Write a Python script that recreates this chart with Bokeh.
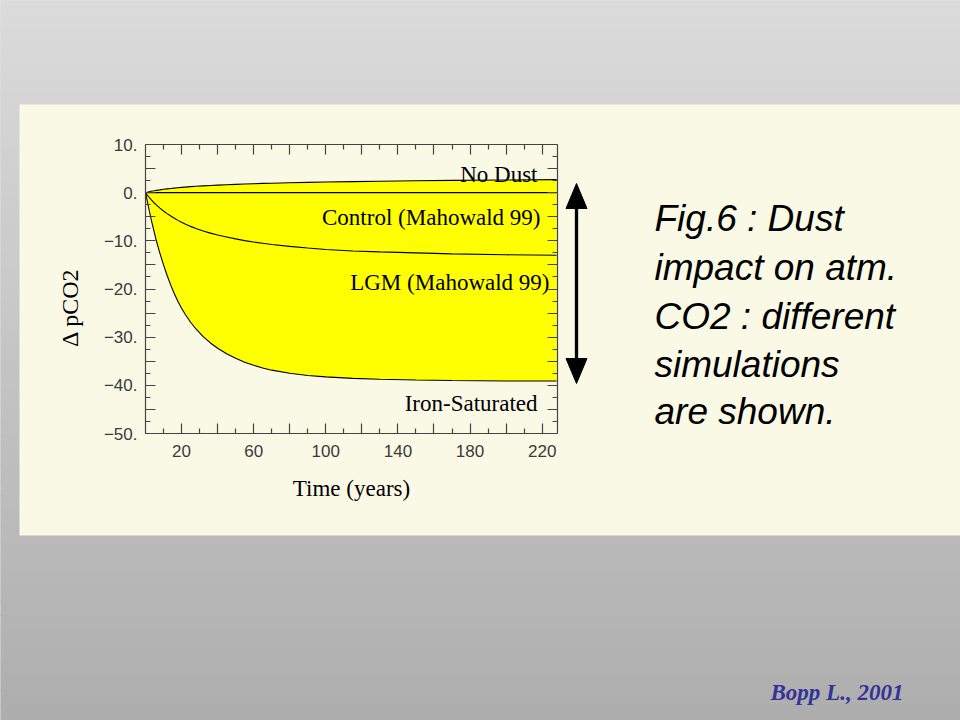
import math
from bokeh.plotting import figure
from bokeh.models import LinearAxis, FixedTicker, ColumnDataSource, Range1d
from bokeh.core.properties import value
from bokeh.embed import file_html
from bokeh.resources import INLINE

# ---------------- data ----------------
years = [0, 1, 2, 3, 4, 5, 6, 8, 10, 12, 14, 16, 18, 20, 22, 25, 28, 32, 36, 40, 45, 50, 55,
         60, 65, 70, 80, 90, 100, 115, 130, 150, 170, 200, 228]
no_dust = [0, 0.1, 0.2, 0.3, 0.35, 0.4, 0.47, 0.58, 0.7, 0.78, 0.86, 0.94, 1.02, 1.1, 1.16,
           1.25, 1.33, 1.42, 1.5, 1.57, 1.65, 1.72, 1.8, 1.86, 1.92, 1.97, 2.06, 2.14, 2.21,
           2.3, 2.38, 2.47, 2.55, 2.64, 2.7]
control = [0, 0, 0, 0, 0, 0, 0, 0, 0, 0, 0, 0, 0, 0, 0, 0, 0, 0, 0, 0, 0, 0, 0, 0, 0, 0, 0,
           0, 0, 0, 0, 0, 0, 0, 0]
lgm = [0, -0.5, -0.95, -1.4, -1.8, -2.2, -2.55, -3.2, -3.8, -4.35, -4.85, -5.3, -5.75, -6.15,
       -6.5, -7.0, -7.45, -7.95, -8.4, -8.8, -9.2, -9.6, -9.95, -10.25, -10.5, -10.75, -11.15,
       -11.5, -11.8, -12.1, -12.3, -12.5, -12.7, -12.9, -13.0]
iron = [0, -1.8, -3.6, -5.3, -6.9, -8.45, -9.95, -12.6, -15.0, -17.2, -19.2, -21.0, -22.6,
        -24.0, -25.25, -26.9, -28.3, -29.9, -31.2, -32.3, -33.45, -34.4, -35.2, -35.85, -36.4,
        -36.85, -37.5, -37.95, -38.25, -38.55, -38.75, -38.9, -39.0, -39.1, -39.1]

series_labels = ["No Dust", "Control (Mahowald 99)", "LGM (Mahowald 99)", "Iron-Saturated"]

x_label_ticks = [20, 60, 100, 140, 180, 220]
x_long_ticks = [40, 80, 120, 160, 200]
x_short_ticks = [10, 30, 50, 70, 90, 110, 130, 150, 170, 190, 210]
x_tick_labels = {20: "20", 60: "60", 100: "100", 140: "140", 180: "180", 220: "220"}
y_label_ticks = [-50, -40, -30, -20, -10, 0, 10]
y_long_ticks = [-45, -35, -25, -15, -5, 5]
y_short_ticks = [-47.5, -42.5, -37.5, -32.5, -27.5, -22.5, -17.5, -12.5, -7.5, -2.5, 2.5, 7.5]
y_tick_labels = {-50: "\u221250.", -40: "\u221240.", -30: "\u221230.", -20: "\u221220.",
                 -10: "\u221210.", 0: "0.", 10: "10."}

x_title = "Time (years)"
y_title = "\u0394 pCO2"
caption_lines = ["Fig.6 : Dust", "impact on atm.", "CO2 : different", "simulations", "are shown."]
credit = "Bopp L., 2001"

# ---------------- page geometry (pixels, y downwards) ----------------
W, H = 960, 720
FL, FR, FT, FB = 145, 557, 144, 433      # chart frame edges on the page
XMAX = 228.5
YMIN, YMAX = -50, 10


def dx(px):
    return (px - FL) / (FR - FL) * XMAX


def dy(py):
    return YMAX - (py - FT) / (FB - FT) * (YMAX - YMIN)


p = figure(width=W, height=H, x_range=Range1d(0, W), y_range=Range1d(H, 0),
           x_axis_location=None, y_axis_location=None,
           output_backend="svg", toolbar_location=None, min_border=0)
p.extra_x_ranges = {"cx": Range1d(dx(0), dx(W))}
p.extra_y_ranges = {"cy": Range1d(dy(H), dy(0))}
p.xgrid.visible = False
p.ygrid.visible = False
p.outline_line_color = None
p.border_fill_color = "#c4c4c4"
p.background_fill_color = "#c4c4c4"

# slide background: vertical grey gradient + cream panel
N = 48
bt, bb, bc = [], [], []
for i in range(N):
    y0 = i * H / N
    y1 = (i + 1) * H / N
    g = int(round(219 - 45 * ((y0 + y1) / 2) / 720))
    bt.append(y0 - 0.5)
    bb.append(y1 + 0.5)
    bc.append("#%02x%02x%02x" % (g, g, g))
p.quad(left=-5, right=W + 5, top=bt, bottom=bb, fill_color=bc, line_color=None)
PANEL = dict(left=19, right=W + 5, top=104, bottom=535)
p.quad(fill_color="#FAF9E6", line_color=None, **PANEL)

# chart data
src = ColumnDataSource(dict(years=years, no_dust=no_dust, control=control, lgm=lgm, iron=iron))
p.varea(x="years", y1="no_dust", y2="iron", source=src, fill_color="#FFFF00",
        x_range_name="cx", y_range_name="cy")
for col in ["no_dust", "control", "lgm", "iron"]:
    p.line(x="years", y=col, source=src, line_color="black", line_width=1.1,
           x_range_name="cx", y_range_name="cy")

# curve labels
lab_src = ColumnDataSource(dict(x=[537, 540, 549, 537], y=[174, 217, 282, 403], t=series_labels))
p.text(x="x", y="y", text="t", source=lab_src, text_align="right", text_baseline="alphabetic",
       text_font=value("Liberation Serif"), text_font_size="23px", text_color="black")

AX = "#444444"


def make_axis(side, loc, bounds, major, minor, major_len, minor_len, labels=None, line=True):
    ax = LinearAxis(x_range_name="cx", y_range_name="cy", fixed_location=loc, bounds=bounds,
                    ticker=FixedTicker(ticks=major, minor_ticks=minor))
    ax.axis_line_color = AX if line else None
    ax.axis_line_width = 1.2
    ax.major_tick_line_color = AX
    ax.minor_tick_line_color = AX
    ax.major_tick_line_width = 1.2
    ax.minor_tick_line_width = 1.2
    ax.major_tick_in = major_len
    ax.major_tick_out = 0
    ax.minor_tick_in = minor_len
    ax.minor_tick_out = 0
    ax.major_label_text_font = "Liberation Sans"
    ax.major_label_text_font_size = "17px"
    ax.major_label_text_color = "#3a3a3a"
    if labels is not None:
        ax.major_label_overrides = labels
    p.add_layout(ax, side)
    return ax


xa = make_axis("below", YMIN, (0, XMAX), x_label_ticks, x_short_ticks, 10, 5, x_tick_labels)
xa.major_label_standoff = 11
xa.axis_label = x_title
xa.axis_label_text_font = "Liberation Serif"
xa.axis_label_text_font_size = "23px"
xa.axis_label_text_font_style = "normal"
xa.axis_label_text_color = "black"
xa.axis_label_standoff = 16
make_axis("below", YMIN, (0, XMAX), [], x_long_ticks, 10, 10, line=False)
make_axis("above", YMAX, (0, XMAX), [], x_short_ticks, 5, 5)
make_axis("above", YMAX, (0, XMAX), [], x_label_ticks + x_long_ticks, 10, 10, line=False)

ya = make_axis("left", 0, (YMIN, YMAX), y_label_ticks, y_short_ticks, 10, 5, y_tick_labels)
ya.major_label_standoff = 8
make_axis("left", 0, (YMIN, YMAX), [], y_long_ticks, 10, 10, line=False)
make_axis("right", XMAX, (YMIN, YMAX), [], y_short_ticks, 5, 5)
make_axis("right", XMAX, (YMIN, YMAX), [], y_label_ticks + y_long_ticks, 10, 10, line=False)

# y title (rotated)
p.text(x=[69], y=[307], text=[y_title], angle=math.pi / 2, text_align="center",
       text_baseline="middle", text_font=value("Liberation Serif"), text_font_size="24px",
       text_color="black")

# double-headed arrow beside the chart
AXX, A_TOP, A_BOT, HEAD_L, HEAD_W = 576, 183, 383, 25, 21
p.segment(x0=[AXX], y0=[A_TOP + HEAD_L - 2], x1=[AXX], y1=[A_BOT - HEAD_L + 2],
          line_color="black", line_width=3.3)
p.patches(xs=[[AXX - HEAD_W / 2, AXX + HEAD_W / 2, AXX], [AXX - HEAD_W / 2, AXX + HEAD_W / 2, AXX]],
          ys=[[A_TOP + HEAD_L, A_TOP + HEAD_L, A_TOP], [A_BOT - HEAD_L, A_BOT - HEAD_L, A_BOT]],
          fill_color="black", line_color="black")

# caption
p.text(x=[654] * len(caption_lines), y=[218, 267, 316, 364, 411], text=caption_lines,
       text_align="left", text_baseline="alphabetic", text_font=value("Liberation Sans"),
       text_font_style="italic", text_font_size="37px", text_color="black")

# credit
p.text(x=[770], y=[692], text=[credit], text_align="left", text_baseline="alphabetic",
       text_font=value("Liberation Serif"), text_font_style="bold italic",
       text_font_size="23px", text_color="#333399")

open("out.html", "w").write(file_html(p, INLINE))
